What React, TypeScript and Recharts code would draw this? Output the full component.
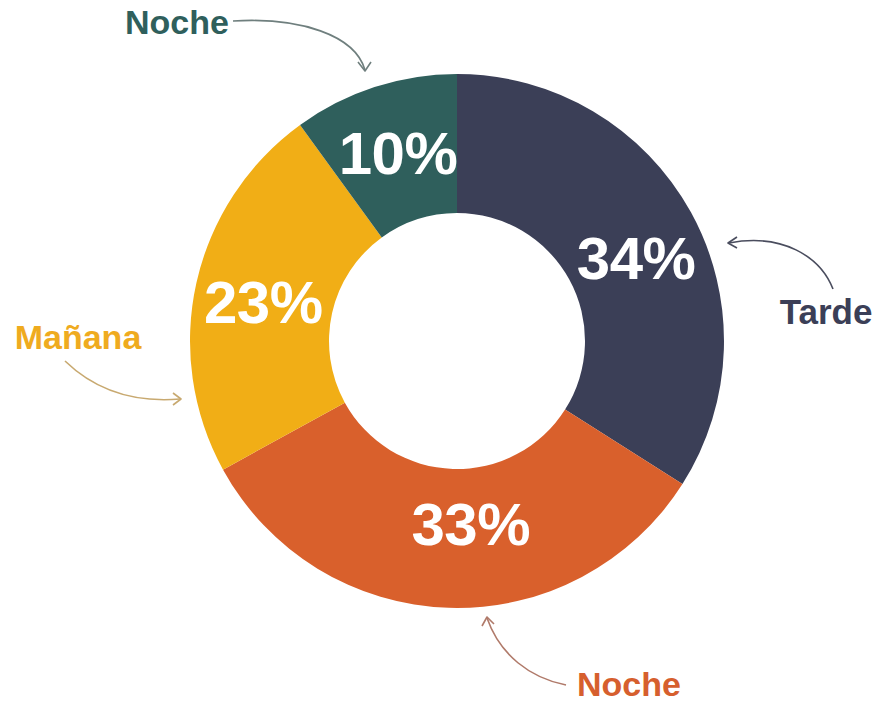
import React from 'react';
import { PieChart, Pie, Cell } from 'recharts';

const categories = ['Tarde', 'Noche', 'Mañana', 'Noche'];
const values = [34, 33, 23, 10];
const colors = ['#3b3f57', '#d9602c', '#f1ae16', '#2f5f5c'];
const calloutColors = ['#3b3f57', '#d65f2e', '#efab1f', '#2f5f5c'];
const arrowColors = ['#4a4d5e', '#b07a6a', '#c8a970', '#6f7f7e'];

const data = categories.map((name, i) => ({ name, value: values[i] }));

const RAD = Math.PI / 180;
const FONT = '"Liberation Sans", Arial, Helvetica, sans-serif';
const NUDGE: Record<number, [number, number]> = { 0: [6, 13], 1: [20, -14], 2: [-1, 5], 3: [2, 0] };

const renderLabel = (props: any) => {
  const { cx, cy, midAngle, innerRadius, outerRadius, index, value } = props;
  const r = (innerRadius + outerRadius) / 2;
  const [dx, dy] = NUDGE[index] || [0, 0];
  const x = cx + r * Math.cos(-midAngle * RAD) + dx;
  const y = cy + r * Math.sin(-midAngle * RAD) + dy;
  return (
    <text
      x={x}
      y={y}
      fill="#ffffff"
      textAnchor="middle"
      dominantBaseline="central"
      fontFamily={FONT}
      fontWeight="bold"
      fontSize={60}
      letterSpacing={-0.5}
    >
      {`${value}%`}
    </text>
  );
};

// callouts: category index, text centre x, text baseline, arrow path and head
const callouts: Array<{ idx: number; x: number; y: number; size: number; path: string; head: string }> = [
  { idx: 3, x: 177, y: 34, size: 34, path: 'M233,21 C300,17 355,35 365,70', head: 'M358,62 L365,71 L371,62' },
  { idx: 0, x: 826, y: 324, size: 35, path: 'M833,289 C820,256 782,233 729,243', head: 'M737,237 L728,243 L737,248' },
  { idx: 2, x: 78, y: 349, size: 34, path: 'M65,361 C95,390 132,403 180,399', head: 'M173,393 L181,399 L173,405' },
  { idx: 1, x: 629, y: 696, size: 34, path: 'M566,685 C530,678 500,655 487,618', head: 'M482,626 L487,617 L494,624' },
];

export default function App() {
  return (
    <div style={{ position: 'absolute', left: 0, top: 0, width: 880, height: 704, background: '#ffffff' }}>
      <PieChart width={880} height={704} margin={{ top: 0, right: 0, bottom: 0, left: 0 }}>
        <Pie
          data={data}
          dataKey="value"
          nameKey="name"
          cx={457}
          cy={341}
          innerRadius={128}
          outerRadius={267}
          startAngle={90}
          endAngle={-270}
          stroke="none"
          label={renderLabel}
          labelLine={false}
          isAnimationActive={false}
        >
          {data.map((d, i) => (
            <Cell key={i} fill={colors[i]} />
          ))}
        </Pie>
      </PieChart>
      <svg
        width={880}
        height={704}
        style={{ position: 'absolute', left: 0, top: 0, pointerEvents: 'none' }}
      >
        {callouts.map((c, i) => (
          <g key={i}>
            <path d={c.path} fill="none" stroke={arrowColors[c.idx]} strokeWidth={1.6} />
            <path d={c.head} fill="none" stroke={arrowColors[c.idx]} strokeWidth={1.6} strokeLinejoin="round" />
            <text
              x={c.x}
              y={c.y}
              fill={calloutColors[c.idx]}
              fontFamily={FONT}
              fontWeight="bold"
              fontSize={c.size}
              textAnchor="middle"
            >
              {categories[c.idx]}
            </text>
          </g>
        ))}
      </svg>
    </div>
  );
}
